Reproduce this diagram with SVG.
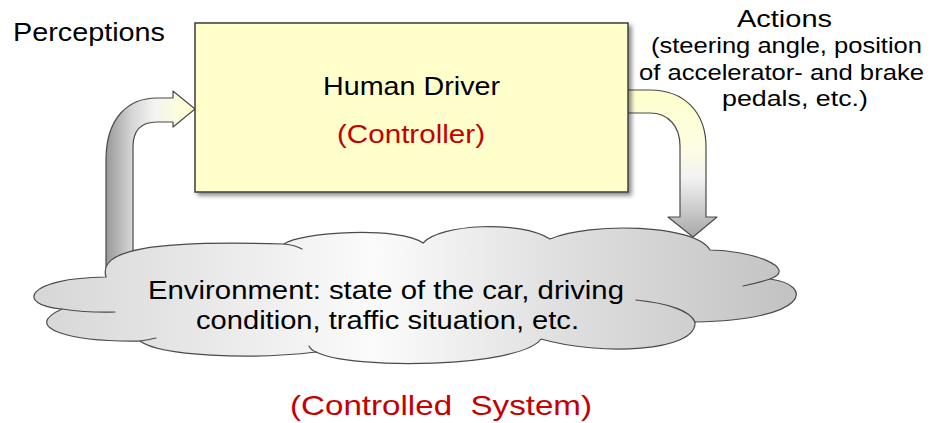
<svg xmlns="http://www.w3.org/2000/svg" width="933" height="423" viewBox="0 0 933 423">
<style>
  text { font-family: "Liberation Sans", Arial, sans-serif; fill: #000; }
  .red { fill: #C40000; }
  .arrow { stroke: #4a4a4a; stroke-width: 1.2; stroke-linejoin: round; }
  .cloud { stroke: #4a4a4a; stroke-width: 1.2; stroke-linejoin: round; }
  .tail { fill: none; stroke: #4a4a4a; stroke-width: 1.2; stroke-linecap: round; }
</style>
<defs>
  <linearGradient id="gLeft" gradientUnits="userSpaceOnUse" x1="105" y1="0" x2="195" y2="0">
    <stop offset="0" stop-color="#969696"/>
    <stop offset="0.3" stop-color="#d6d6d6"/>
    <stop offset="0.55" stop-color="#f3f3f1"/>
    <stop offset="0.8" stop-color="#fcfce0"/>
    <stop offset="1" stop-color="#ffffcc"/>
  </linearGradient>
  <linearGradient id="gRight" gradientUnits="userSpaceOnUse" x1="0" y1="90" x2="0" y2="237">
    <stop offset="0" stop-color="#ffffcc"/>
    <stop offset="0.4" stop-color="#fdfde4"/>
    <stop offset="0.6" stop-color="#f2f2f2"/>
    <stop offset="1" stop-color="#a8a8a8"/>
  </linearGradient>
  <linearGradient id="gCloud" gradientUnits="userSpaceOnUse" x1="30" y1="0" x2="800" y2="0">
    <stop offset="0" stop-color="#d6d6d6"/>
    <stop offset="0.2" stop-color="#e6e6e6"/>
    <stop offset="0.45" stop-color="#fbfbfb"/>
    <stop offset="0.7" stop-color="#dedede"/>
    <stop offset="1" stop-color="#c2c2c2"/>
  </linearGradient>
  <filter id="shadow" x="-5%" y="-5%" width="115%" height="120%">
    <feDropShadow dx="3" dy="3" stdDeviation="2" flood-color="#000" flood-opacity="0.45"/>
  </filter>
</defs>

<g id="connectors">
  <path class="arrow" fill="url(#gLeft)" d="M 106 300 L 106 160 C 106 118 128 98 157 98 L 173 98 L 173 91 L 195 109 L 173 127 L 173 122 L 157 122 C 142 122 133 130 133 147 L 133 300 Z"/>
  <path class="arrow" fill="url(#gRight)" d="M 620 90 L 650 90 C 684 90 706 112 706 147 L 706 217 L 717 217 L 693 237 L 668 217 L 680 217 L 680 146 C 680 126 668 113 650 113 L 620 113 Z"/>
</g>

<g id="environment">
  <path class="cloud" fill="url(#gCloud)" d="M 106 277 C 98 250 150 240 284 244 C 300 232 400 226 423 243 C 440 224 520 220 550 239 C 590 222 695 224 710 250 C 750 250 800 268 770 279 C 815 285 810 320 695 322 C 697 352 600 356 541 339 C 520 368 350 370 316 352 C 250 360 160 356 140 341 C 70 342 20 328 62 309 C 15 305 25 278 106 277 Z"/>
  <path class="tail" d="M 284 244 Q 295 245 302 249"/>
  <path class="tail" d="M 62 309 Q 90 313 115 312"/>
  <path class="tail" d="M 140 341 Q 148 340 156 338"/>
  <path class="tail" d="M 770 279 Q 757 283 743 286"/>
  <path class="tail" d="M 695 322 C 690 310 665 303 636 300"/>
  <path class="tail" d="M 316 352 Q 311 350 309 346"/>
  <text x="148" y="299" font-size="25" textLength="476" lengthAdjust="spacingAndGlyphs">Environment: state of the car, driving</text>
  <text x="196" y="329" font-size="25" textLength="383" lengthAdjust="spacingAndGlyphs">condition, traffic situation, etc.</text>
</g>

<g id="controller">
  <rect x="195" y="23" width="433" height="169" fill="#ffffcc" stroke="#3c3c3c" stroke-width="1.5" filter="url(#shadow)"/>
  <text x="323" y="95" font-size="25" textLength="177" lengthAdjust="spacingAndGlyphs">Human Driver</text>
  <text class="red" x="337" y="143" font-size="25" textLength="148" lengthAdjust="spacingAndGlyphs">(Controller)</text>
</g>

<g id="perceptions-label">
  <text x="13" y="41" font-size="26" textLength="152" lengthAdjust="spacingAndGlyphs">Perceptions</text>
</g>

<g id="actions-label">
  <text x="737" y="27" font-size="24" textLength="95" lengthAdjust="spacingAndGlyphs">Actions</text>
  <text x="651" y="53" font-size="22" textLength="271" lengthAdjust="spacingAndGlyphs">(steering angle, position</text>
  <text x="639" y="80" font-size="22" textLength="285" lengthAdjust="spacingAndGlyphs">of accelerator- and brake</text>
  <text x="722" y="106" font-size="22" textLength="146" lengthAdjust="spacingAndGlyphs">pedals, etc.)</text>
</g>

<g id="controlled-system-label">
  <text class="red" x="290" y="415" font-size="28" textLength="302" lengthAdjust="spacingAndGlyphs" xml:space="preserve">(Controlled  System)</text>
</g>
</svg>
